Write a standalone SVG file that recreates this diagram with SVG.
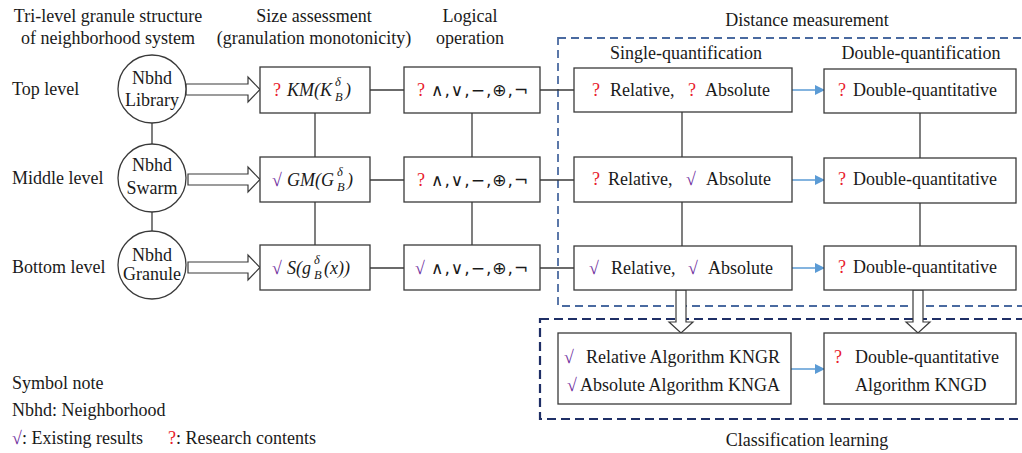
<svg xmlns="http://www.w3.org/2000/svg" width="1022" height="453" viewBox="0 0 1022 453">
<style>
text{font-family:"Liberation Serif","Tinos","DejaVu Serif",serif;font-size:18px;fill:#1a1a1a}
.c{text-anchor:middle}
.m{font-family:"Liberation Serif","Tinos","DejaVu Serif",serif;font-style:italic;font-size:18px}
.sm{font-family:"Liberation Serif","Tinos","DejaVu Serif",serif;font-style:italic;font-size:12.5px}
.s{font-family:"DejaVu Sans","Liberation Sans",sans-serif;font-size:17px;letter-spacing:1px}
.q{fill:#e8202a}
.v{fill:#7030a0}
.box{fill:#fff;stroke:#3a3a3a;stroke-width:1.3}
.ln{stroke:#3a3a3a;stroke-width:1.3;fill:none}
.hol{fill:#fff;stroke:#3a3a3a;stroke-width:1.2}
.blue{stroke:#5b9bd5;stroke-width:1.5;fill:none}
.d1{fill:none;stroke:#4a6aa0;stroke-width:1.8;stroke-dasharray:8 5}
.d2{fill:none;stroke:#1f2f66;stroke-width:2.2;stroke-dasharray:9 5}
</style>
<defs>
<marker id="ba" markerWidth="10" markerHeight="10" refX="9" refY="5" orient="auto" markerUnits="userSpaceOnUse"><path d="M0,0 L10,5 L0,10 z" fill="#5b9bd5"/></marker>
</defs>
<rect width="1022" height="453" fill="#fff"/>

<g id="headers">
<text class="c" x="108" y="22">Tri-level granule structure</text>
<text class="c" x="108" y="44">of neighborhood system</text>
<text class="c" x="314" y="22">Size assessment</text>
<text class="c" x="314" y="44">(granulation monotonicity)</text>
<text class="c" x="470" y="22">Logical</text>
<text class="c" x="470" y="44">operation</text>
<text class="c" x="807" y="26">Distance measurement</text>
<text class="c" x="686" y="59">Single-quantification</text>
<text class="c" x="921" y="59">Double-quantification</text>
<text x="12" y="95">Top level</text>
<text x="12" y="184">Middle level</text>
<text x="12" y="273">Bottom level</text>
</g>

<g id="frames">
<rect class="d1" x="558" y="38" width="470" height="268"/>
<rect class="d2" x="540" y="319" width="490" height="100"/>
<text class="c" x="807" y="446">Classification  learning</text>
</g>

<g id="connectors">
<line class="ln" x1="152" y1="123" x2="152" y2="144"/>
<line class="ln" x1="152" y1="212" x2="152" y2="231"/>
<line class="ln" x1="315" y1="113" x2="315" y2="157"/>
<line class="ln" x1="315" y1="202" x2="315" y2="245"/>
<line class="ln" x1="472" y1="113" x2="472" y2="157"/>
<line class="ln" x1="472" y1="202" x2="472" y2="245"/>
<line class="ln" x1="682" y1="112" x2="682" y2="157"/>
<line class="ln" x1="682" y1="202" x2="682" y2="246"/>
<line class="ln" x1="920" y1="113" x2="920" y2="158"/>
<line class="ln" x1="920" y1="203" x2="920" y2="246"/>
<line class="ln" x1="370" y1="90" x2="404" y2="90"/>
<line class="ln" x1="370" y1="180" x2="404" y2="180"/>
<line class="ln" x1="370" y1="268" x2="404" y2="268"/>
<line class="ln" x1="540" y1="90" x2="574" y2="90"/>
<line class="ln" x1="540" y1="180" x2="574" y2="180"/>
<line class="ln" x1="540" y1="268" x2="574" y2="268"/>
<line class="blue" x1="792" y1="90" x2="824" y2="90" marker-end="url(#ba)"/>
<line class="blue" x1="792" y1="180" x2="824" y2="180" marker-end="url(#ba)"/>
<line class="blue" x1="792" y1="268" x2="824" y2="268" marker-end="url(#ba)"/>
<line class="blue" x1="791" y1="369" x2="824" y2="369" marker-end="url(#ba)"/>
<polygon class="hol" points="186,84 248,84 248,77 260,89.5 248,102 248,95 186,95"/>
<polygon class="hol" points="188,174 248,174 248,167 260,179.5 248,192 248,185 188,185"/>
<polygon class="hol" points="188,262 248,262 248,255 260,267.5 248,280 248,273 188,273"/>
<polygon class="hol" points="676,290 686,290 686,322 693,322 681,333 669,322 676,322"/>
<polygon class="hol" points="913,290 923,290 923,322 930,322 918,333 906,322 913,322"/>
</g>

<g id="nbhd-library">
<circle class="box" cx="152" cy="89" r="34"/>
<text class="c" x="152" y="84">Nbhd</text>
<text class="c" x="152" y="106">Library</text>
</g>
<g id="nbhd-swarm">
<circle class="box" cx="152" cy="178" r="34"/>
<text class="c" x="152" y="171">Nbhd</text>
<text class="c" x="152" y="194">Swarm</text>
</g>
<g id="nbhd-granule">
<circle class="box" cx="152" cy="265" r="34"/>
<text class="c" x="152" y="261">Nbhd</text>
<text class="c" x="152" y="280">Granule</text>
</g>

<g id="size-top">
<rect class="box" x="260" y="67" width="110" height="46"/>
<text class="q" x="273" y="96">?</text>
<text class="m" x="287" y="96">KM(K</text>
<text class="sm" x="335" y="86">δ</text>
<text class="sm" x="335" y="101">B</text>
<text class="m" x="345" y="96">)</text>
</g>
<g id="size-middle">
<rect class="box" x="260" y="157" width="110" height="45"/>
<text class="v" x="272" y="186">√</text>
<text class="m" x="287" y="186">GM(G</text>
<text class="sm" x="337" y="176">δ</text>
<text class="sm" x="337" y="191">B</text>
<text class="m" x="347" y="186">)</text>
</g>
<g id="size-bottom">
<rect class="box" x="260" y="245" width="110" height="45"/>
<text class="v" x="272" y="274">√</text>
<text class="m" x="287" y="274">S(g</text>
<text class="sm" x="314" y="264">δ</text>
<text class="sm" x="314" y="279">B</text>
<text class="m" x="324" y="274">(x))</text>
</g>

<g id="logic-top">
<rect class="box" x="404" y="67" width="136" height="46"/>
<text class="q" x="417" y="96">?</text>
<text class="s" x="431" y="96">∧,∨,−,⊕,¬</text>
</g>
<g id="logic-middle">
<rect class="box" x="404" y="157" width="136" height="45"/>
<text class="q" x="417" y="186">?</text>
<text class="s" x="431" y="186">∧,∨,−,⊕,¬</text>
</g>
<g id="logic-bottom">
<rect class="box" x="404" y="245" width="136" height="45"/>
<text class="v" x="415" y="274">√</text>
<text class="s" x="431" y="274">∧,∨,−,⊕,¬</text>
</g>

<g id="single-top">
<rect class="box" x="574" y="68" width="218" height="44"/>
<text class="q" x="592" y="96">?</text>
<text x="610" y="96">Relative,</text>
<text class="q" x="688" y="96">?</text>
<text x="705" y="96">Absolute</text>
</g>
<g id="single-middle">
<rect class="box" x="574" y="157" width="218" height="45"/>
<text class="q" x="592" y="185">?</text>
<text x="608" y="185">Relative,</text>
<text class="v" x="686" y="185">√</text>
<text x="706" y="185">Absolute</text>
</g>
<g id="single-bottom">
<rect class="box" x="574" y="246" width="218" height="44"/>
<text class="v" x="589" y="274">√</text>
<text x="611" y="274">Relative,</text>
<text class="v" x="688" y="274">√</text>
<text x="708" y="274">Absolute</text>
</g>

<g id="double-top">
<rect class="box" x="824" y="69" width="192" height="44"/>
<text class="q" x="838" y="96">?</text>
<text x="853" y="96">Double-quantitative</text>
</g>
<g id="double-middle">
<rect class="box" x="824" y="158" width="192" height="45"/>
<text class="q" x="838" y="185">?</text>
<text x="853" y="185">Double-quantitative</text>
</g>
<g id="double-bottom">
<rect class="box" x="824" y="246" width="192" height="44"/>
<text class="q" x="838" y="273">?</text>
<text x="853" y="273">Double-quantitative</text>
</g>

<g id="class-left">
<rect class="box" x="558" y="333" width="233" height="71"/>
<text class="v" x="564" y="363">√</text>
<text x="586" y="363">Relative Algorithm KNGR</text>
<text class="v" x="567" y="391">√</text>
<text x="580" y="391">Absolute Algorithm KNGA</text>
</g>
<g id="class-right">
<rect class="box" x="824" y="333" width="192" height="71"/>
<text class="q" x="834" y="363">?</text>
<text x="855" y="363">Double-quantitative</text>
<text x="855" y="391">Algorithm KNGD</text>
</g>

<g id="legend">
<text x="12" y="389">Symbol note</text>
<text x="12" y="416">Nbhd: Neighborhood</text>
<text x="12" y="444"><tspan class="v">√</tspan>: Existing results</text>
<text x="168" y="444"><tspan class="q">?</tspan>: Research contents</text>
</g>
</svg>
